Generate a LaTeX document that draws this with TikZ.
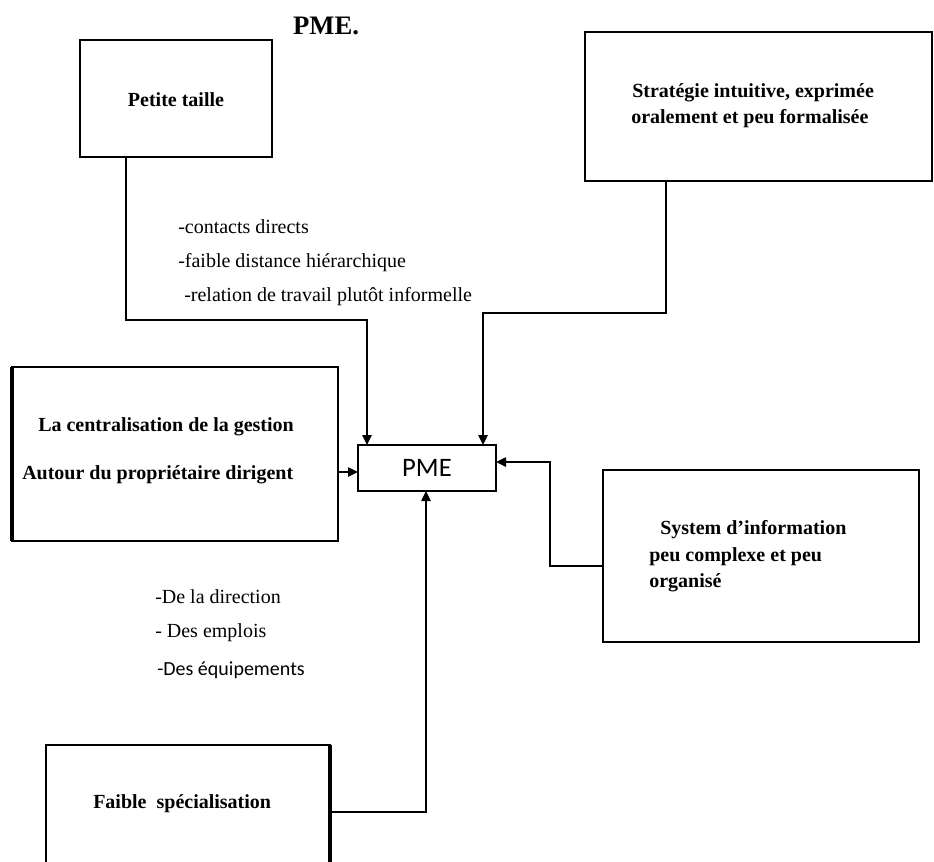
\documentclass[tikz,border=0pt]{standalone}
\usepackage{fontspec}
\setmainfont{Liberation Serif}
\newfontfamily\calfont{Carlito}
\usetikzlibrary{arrows.meta,calc}

\begin{document}
\begin{tikzpicture}[x=0.75pt,y=-0.75pt,
  box/.style={draw=black,line width=1.6pt,fill=white,inner sep=0pt,outer sep=0pt},
  conn/.style={draw=black,line width=1.1pt,-{Triangle[length=7.5pt,width=7pt]}},
  txt/.style={inner sep=0pt,font=\fontsize{15}{17}\selectfont},
  btxt/.style={inner sep=0pt,font=\fontsize{15}{17}\selectfont\bfseries},
  stxt/.style={inner sep=0pt,font=\calfont\fontsize{15}{17}\selectfont}]

% page frame
\clip (0,0) rectangle (934,861);
\fill[white] (0,0) rectangle (934,861);

% title
\node[inner sep=0pt,font=\fontsize{20}{22}\selectfont\bfseries] (title) at (326,26) {PME.};

% boxes
\node[box,minimum width=144pt,minimum height=87.75pt] (pt) at (176,98.5) {};
\node[box,minimum width=260.25pt,minimum height=111.75pt] (st) at (758.5,106.5) {};
\node[box,minimum width=244.5pt,minimum height=130.5pt] (ce) at (175,454) {};
\node[box,line width=1.2pt,minimum width=103.5pt,minimum height=34.5pt,
      font=\calfont\fontsize{20}{22}\selectfont] (pme) at (427,468) {PME};
\node[box,minimum width=237pt,minimum height=129pt] (sy) at (761,556) {};
\node[box,minimum width=213pt,minimum height=116.25pt] (fa) at (188,822.5) {};

% heavier edges
\draw[line width=2.8pt] (ce.north west) -- (ce.south west);
\draw[line width=2.8pt] (fa.north east) -- (fa.south east);

% box texts
\node[btxt] (ptT) at (pt.center |- 0,100) {Petite taille};
\node[btxt,anchor=west] (st1) at (632,93) {Stratégie intuitive, exprimée};
\node[btxt,anchor=west] (st2) at (631,119) {oralement et peu formalisée};
\node[btxt,anchor=west] (ce1) at (38,427) {La centralisation de la gestion};
\node[btxt,anchor=west] (ce2) at (22,475) {Autour du propriétaire dirigent};
\node[btxt,anchor=west] (sy1) at (660,530) {System d’information};
\node[btxt,anchor=west] (sy2) at (649,557) {peu complexe et peu};
\node[btxt,anchor=west] (sy3) at (649,583) {organisé};
\node[btxt,anchor=west] (faT) at (93,804) {Faible\ \ spécialisation};

% free labels
\node[txt,anchor=west] (l1) at (178,227) {-contacts directs};
\node[txt,anchor=west] (l2) at (178,263) {-faible distance hiérarchique};
\node[txt,anchor=west] (l3) at (184,297) {-relation de travail plutôt informelle};
\node[txt,anchor=west] (d1) at (155,597) {-De la direction};
\node[txt,anchor=west] (d2) at (155,633) {- Des emplois};
\node[stxt,anchor=west] (d3) at (157,670) {-Des équipements};

% connectors into PME
\draw[conn] ($(pt.south west)+(46,0)$) |- ($(pme.north west)+(9,-125)$) -- ($(pme.north west)+(9,0)$);
\draw[conn] ($(st.south west)+(81,0)$) |- ($(pme.north east)+(-13,-132)$) -- ($(pme.north east)+(-13,0)$);
\draw[conn] (ce.east |- 0,472) -- (pme.west |- 0,472);
\draw[conn] (sy.west |- 0,566) -| (550,462) -- (pme.east |- 0,462);
\draw[conn] (fa.east |- 0,812) -| (pme.south -| 426,0);
\end{tikzpicture}
\end{document}
